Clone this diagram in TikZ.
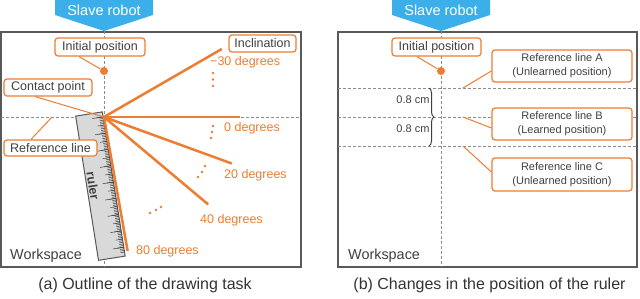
\documentclass[tikz,border=0pt]{standalone}
\usepackage{fontspec}
\setmainfont{Liberation Sans}
\usepackage{tikz}
\usetikzlibrary{arrows.meta, positioning, decorations.pathreplacing}

\definecolor{robotblue}{RGB}{59,175,234}
\definecolor{markorange}{RGB}{237,125,49}
\definecolor{framegray}{RGB}{89,89,89}
\definecolor{textgray}{RGB}{64,64,64}
\definecolor{guidegray}{RGB}{140,140,140}

\begin{document}
\begin{tikzpicture}[
    x=1pt, y=-1pt,
    callout/.style={rectangle, draw=markorange, line width=1.2pt, fill=white, rounded corners=3pt, text=textgray, inner sep=0pt, align=center, font=\fontsize{12.5}{14}\selectfont},
    reflabel/.style={callout, minimum width=140pt, minimum height=32pt, font=\fontsize{11}{14}\selectfont},
    robot/.style={text=white, inner sep=0pt, font=\fontsize{14.5}{16}\selectfont},
    degree/.style={anchor=west, inner sep=0pt, text=markorange, font=\fontsize{12.5}{14}\selectfont},
    plain/.style={inner sep=0pt, text=textgray, font=\fontsize{11}{13}\selectfont},
    workspace/.style={anchor=west, inner sep=0pt, text=textgray, font=\fontsize{14.4}{16}\selectfont},
    caption/.style={inner sep=0pt, text=textgray!80!black, font=\fontsize{16}{18}\selectfont},
    robotdot/.style={circle, fill=markorange, inner sep=0pt, minimum size=8pt},
    ray/.style={markorange, line width=2.5pt},
    leader/.style={markorange, line width=1pt},
    guide/.style={guidegray, line width=1pt, dash pattern=on 3pt off 2pt},
    frame/.style={framegray, line width=1.5pt, fill=white},
    tick/.style={textgray, line width=0.5pt},
]

\useasboundingbox (0,0) rectangle (640,298);

% Workspaces
\draw[frame] (1,32) rectangle (301,267);
\draw[frame] (338,32) rectangle (637,267);

% Slave robots
\fill[robotblue] (55,0) -- (153,0) -- (153,15) -- (104,31) -- (55,15) -- cycle;
\fill[robotblue] (392,0) -- (490,0) -- (490,15) -- (441,31) -- (392,15) -- cycle;
\coordinate (tipA) at (104,31);
\coordinate (tipB) at (441,31);
\node[robot] (robotA) at (104,10.5) {Slave robot};
\node[robot] (robotB) at (441,10.5) {Slave robot};

% Guide lines
\draw[guide] (1,117) -- (301,117);
\draw[guide] (tipA) -- (104,267);
\draw[guide] (338,88) -- (637,88);
\draw[guide] (338,117) -- (637,117);
\draw[guide] (338,146) -- (637,146);
\draw[guide] (tipB) -- (441,267);

% Ruler
\begin{scope}[shift={(89,114)}, rotate=9]
  \draw[framegray, fill=gray!30, line width=1pt] (-13.5,0) rectangle (13.5,146);
  \foreach \i in {0,...,83} \draw[tick] (13.5,5+1.65*\i) -- ++(-4,0);
  \foreach \i in {0,...,16} \draw[tick] (13.5,5+8.25*\i) -- ++(-7,0);
  \foreach \i in {0,...,8} \draw[tick] (13.5,5+16.5*\i) -- ++(-11,0);
\end{scope}
\node[rotate=-81, inner sep=0pt, text=textgray, font=\bfseries\fontsize{12.5}{14}\selectfont] (rulerlabel) at (93,186) {ruler};

% Inclinations
\coordinate (cp) at (104,117);
\foreach \a in {-30,0,20,40,80}
  \draw[ray] (cp) -- ++(\a:136) coordinate (end\a);

\node[degree] (deg-30) at (210,62) {−30 degrees};
\node[degree] (deg0) at (224,128) {0 degrees};
\node[degree] (deg20) at (224,175) {20 degrees};
\node[degree] (deg40) at (200,220) {40 degrees};
\node[degree] (deg80) at (136,251) {80 degrees};

\foreach \p in {(213,73),(213,79.5),(213,86),(213,126),(212,132),(211,138),(205,166),(202,172),(198,177),(150,213),(156,210),(161,207)}
  \fill[markorange] \p circle (1.3pt);

% Callouts (a)
\node[callout, minimum width=90pt, minimum height=18pt] (initboxA) at (100,47) {Initial position};
\node[robotdot] (initA) at (104,71) {};
\node[callout, minimum width=88pt, minimum height=17pt] (contact) at (48,87.5) {Contact point};
\node[callout, minimum width=93pt, minimum height=16pt] (refline) at (50.5,148) {Reference line};
\node[callout, minimum width=67pt, minimum height=17pt] (incl) at (262.5,43.5) {Inclination};
\coordinate (refptA) at (52,117);

\draw[leader] ([xshift=-21]initboxA.south) -- (initA);
\draw[leader] ([xshift=-13]contact.south) -- (cp);
\draw[leader] ([xshift=-19.5]refline.north) -- (refptA);

% Callouts (b)
\node[callout, minimum width=89pt, minimum height=18pt] (initboxB) at (436.5,47) {Initial position};
\node[robotdot] (initB) at (441,71) {};
\node[reflabel] (refA) at (562,66) {Reference line A\\(Unlearned position)};
\node[reflabel] (refB) at (562,124) {Reference line B\\(Learned position)};
\node[reflabel, minimum height=33pt] (refC) at (562,174.5) {Reference line C\\(Unlearned position)};
\coordinate (lineA) at (463,88);
\coordinate (lineB) at (463,117);
\coordinate (lineC) at (463,146);

\draw[leader] ([xshift=-19.5]initboxB.south) -- (initB);
\draw[leader] ([yshift=-5]refA.west) -- (lineA);
\draw[leader] ([yshift=-4]refB.west) -- (lineB);
\draw[leader] ([yshift=2.5]refC.west) -- (lineC);

% Spacing
\draw[textgray, line width=1pt, decorate, decoration={brace, amplitude=5pt}] (429,88) -- (429,146);
\node[plain] (gapAB) at (413,100) {0.8 cm};
\node[plain] (gapBC) at (413,129) {0.8 cm};

% Labels
\node[workspace] (wsA) at (10,256) {Workspace};
\node[workspace] (wsB) at (348,256) {Workspace};
\node[caption] (capA) at (145,285) {(a) Outline of the drawing task};
\node[caption] (capB) at (489.5,285) {(b) Changes in the position of the ruler};

\end{tikzpicture}
\end{document}
